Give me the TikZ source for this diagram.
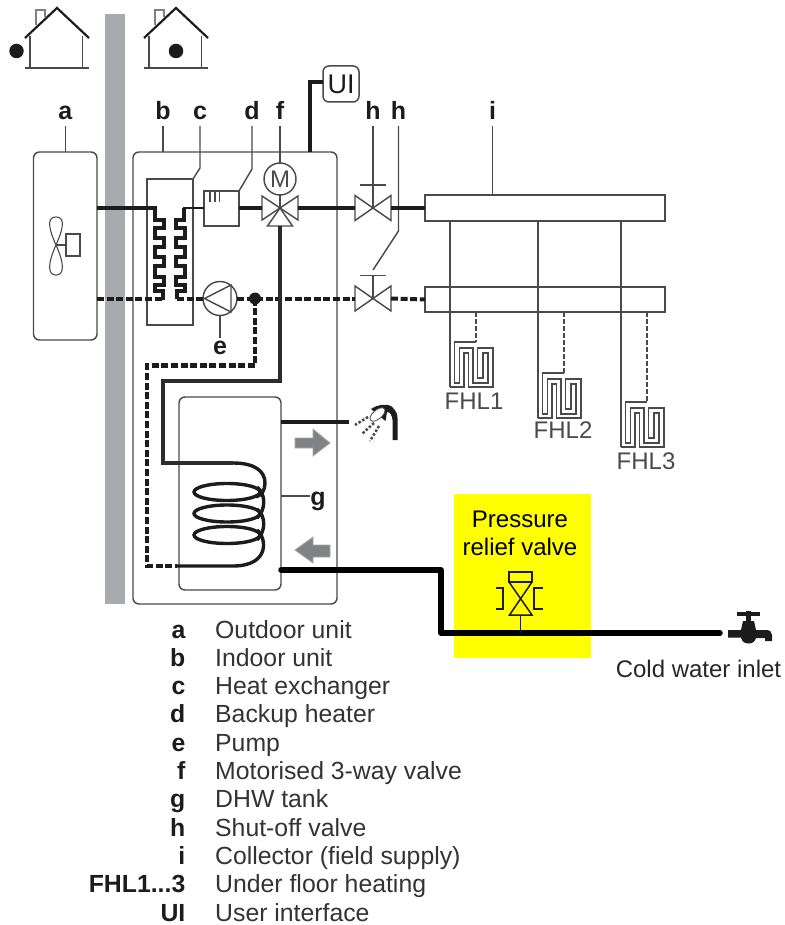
\documentclass[tikz,border=0pt]{standalone}
\usepackage{fontspec}
\setmainfont{Liberation Sans}
\usetikzlibrary{shapes.geometric}
\definecolor{linegrey}{HTML}{4A4A4C}
\definecolor{wallgrey}{HTML}{A9AAAE}
\definecolor{pipeblack}{HTML}{1C1C1C}
\definecolor{arrowgrey}{HTML}{808285}
\definecolor{relief}{HTML}{FFFF00}
\tikzset{
  thinline/.style={draw=linegrey,line width=1.45pt},
  hairline/.style={draw=linegrey,line width=1.1pt},
  hotpipe/.style={draw=pipeblack,line width=4pt,line join=miter},
  coldpipe/.style={draw=pipeblack,line width=4pt,dash pattern=on 7pt off 2.6pt},
  coilpipe/.style={draw=pipeblack,line width=3.4pt,line join=miter},
  mainspipe/.style={draw=black,line width=5.5pt,line join=round},
  leadlabel/.style={font=\fontsize{25}{28}\bfseries\selectfont,text=pipeblack,inner sep=0pt,outer ysep=6pt,text height=16pt,text depth=0pt,anchor=south},
  legkey/.style={font=\fontsize{24.8}{28}\bfseries\selectfont,text=pipeblack,inner sep=0pt,anchor=base east},
  legtext/.style={font=\fontsize{24.8}{28}\selectfont,text=black!80,inner sep=0pt,anchor=base west},
  fhltext/.style={font=\fontsize{24}{28}\selectfont,text=linegrey,inner sep=0pt},
  unitbox/.style={thinline,rounded corners=6pt,inner sep=0pt,outer sep=0pt,fill=none},
  plainbox/.style={thinline,inner sep=0pt,outer sep=0pt,fill=white},
  house/.pic={
    \draw[draw=linegrey!70,line width=1.6pt] (-12,9) -- (-12,2) -- (-21,2) -- (-21,17);
    \draw[thinline,line width=1.7pt] (-27,28) -- (-27,60) (25.5,28) -- (25.5,60);
    \draw[draw=pipeblack,line width=2.2pt] (-32,30) -- (0,0) -- (32,30);
    \draw[draw=linegrey,line width=1.7pt] (-32,60) -- (32,60);
  },
  shutoff/.pic={
    \draw[thinline,fill=white] (-18,-12.5) -- (0,0) -- (-18,12.5) -- cycle;
    \draw[thinline,fill=white] (18,-12.5) -- (0,0) -- (18,12.5) -- cycle;
    \draw[thinline] (0,0) -- (0,-23) (-13,-23) -- (13,-23);
    \coordinate (-top) at (0,-23);
    \coordinate (-l) at (-18,0);
    \coordinate (-r) at (18,0);
  },
  floorcoil/.pic={
    \draw[draw=linegrey,line width=1.35pt,line join=miter]
      (26,-45) -- (4.3,-45) -- (4.3,-4) -- (9.3,-4) -- (9.3,-39) -- (23,-39) -- (23,-4) -- (38,-4) -- (38,-34) -- (33,-34) -- (33,-9) -- (27.5,-9) -- (27.5,-39) -- (43,-39) -- (43,0) -- (18.5,0) -- (18.5,-34) -- (14,-34) -- (14,0) -- (0,0);
    \coordinate (-s) at (0,0);
    \coordinate (-d) at (26,-45);
  }
}
\begin{document}
\begin{tikzpicture}[x=1pt,y=-1pt]
\useasboundingbox (0,0) rectangle (784,925);
% highlight and wall
\node[fill=relief,inner sep=0pt,minimum width=137.5pt,minimum height=164pt] (yellow) at (522.25,576) {};
\node[fill=wallgrey,inner sep=0pt,minimum width=20pt,minimum height=590pt] (wall) at (115,309) {};
% houses
\pic at (57,8) {house};
\pic at (176,8) {house};
\node[circle,fill=pipeblack,minimum size=14.5pt,inner sep=0pt] (dotout) at (16.5,51) {};
\node[circle,fill=pipeblack,minimum size=14.5pt,inner sep=0pt] (dotin) at (176,51) {};
% units
\node[unitbox,draw,minimum width=63.5pt,minimum height=188pt] (a) at (65.25,246) {};
\node[unitbox,draw,minimum width=204pt,minimum height=452pt] (b) at (235,378) {};
\node[unitbox,draw,minimum width=36pt,minimum height=36pt,line width=1.5pt] (ui) at (341,84) {};
\node[font=\fontsize{27}{28}\selectfont,text=pipeblack,inner sep=0pt] (uitext) at (341,84.5) {UI};
\node[plainbox,draw,fill=none,minimum width=46pt,minimum height=146pt] (c) at (170,252) {};
\node[plainbox,draw,minimum width=35pt,minimum height=35pt] (d) at (221.5,208.5) {};
\node[plainbox,draw,minimum width=240pt,minimum height=26pt] (i1) at (545,208) {};
\node[plainbox,draw,minimum width=240pt,minimum height=25pt] (i2) at (545,299.5) {};
\node[unitbox,draw,minimum width=102pt,minimum height=193pt,fill=white] (g) at (230,493.5) {};
% labels
\node[leadlabel] (la) at (65.25,126) {a};
\node[leadlabel] (lb) at (163,126) {b};
\node[leadlabel] (lc) at (200,126) {c};
\node[leadlabel] (ld) at (252,126) {d};
\node[leadlabel] (lf) at (280,126) {f};
\node[leadlabel] (lh1) at (373,126) {h};
\node[leadlabel] (lh2) at (398.5,126) {h};
\node[leadlabel] (li) at (492.5,126) {i};
% leaders
\draw[thinline] (la.south) -- (a.north);
\draw[thinline] (lb.south) -- (lb.south |- b.north);
\coordinate (cbend) at (200,168);
\draw[thinline] (lc.south) -- (cbend) -- (c.north east);
\coordinate (dbend) at (252,169);
\draw[thinline] (ld.south) -- (dbend) -- (d.north east);
% heater ticks
\coordinate (t1) at (210,191);\coordinate (t2) at (215,191);\coordinate (t3) at (219.5,191);
\draw[hairline] (t1) -- ++(0,11) (t2) -- ++(0,11) (t3) -- ++(0,11);
% fan
\coordinate (fan) at (56,245);
\node[plainbox,draw,minimum width=14pt,minimum height=22pt] (motor) at (73,245) {};
\draw[hairline] (fan) .. controls (47,225) and (48,217) .. (56,217) .. controls (64,217) and (65,225) .. (fan)
  .. controls (47,265) and (48,275) .. (56,275) .. controls (64,275) and (65,265) .. (fan);
\draw[hairline] (fan) -- (motor.west);
% pipes: flow line
\coordinate (aflow) at (a.east |- 0,208);
\draw[hotpipe,line width=3.6pt] (aflow) -- (155,208) -- (155,220) -- (164,220) -- (164,228) -- (155,228) -- (155,238) -- (164,238) -- (164,247) -- (155,247) -- (155,257) -- (164,257) -- (164,266) -- (155,266) -- (155,277) -- (164,277) -- (164,285) -- (155,285) -- (155,291) -- (163,291) -- (163,300);
\coordinate (cR) at (c.east |- 0,208);
\draw[hotpipe,line width=3.6pt] (184,208) -- (184,220) -- (176,220) -- (176,228) -- (185,228) -- (185,238) -- (176,238) -- (176,247) -- (185,247) -- (185,257) -- (176,257) -- (176,266) -- (185,266) -- (185,277) -- (176,277) -- (176,285) -- (185,285) -- (185,291) -- (177,291) -- (177,299);
\draw[hotpipe,line width=2.6pt] (d.west |- 0,208) -- (182.5,208);
% valves
\pic (v1) at (373,208) {shutoff};
\pic (v2) at (373,298.5) {shutoff};
% 3-way valve
\coordinate (vf) at (280,208);
\coordinate (vfl) at (262,208);
\coordinate (vfr) at (298,208);
\coordinate (vfb) at (280,226);
\node[circle,thinline,draw,minimum size=32pt,inner sep=0pt,outer sep=0pt] (m) at (280,179) {};
\node[font=\fontsize{24}{28}\selectfont,text=linegrey,inner sep=0pt] (mtext) at (280,179.5) {M};
\draw[thinline] (lf.south) -- (m.north);
\draw[thinline] (m.south) -- (vf);
\draw[thinline] (vf) -- (262,196) -- (262,220) -- cycle;
\draw[thinline] (vf) -- (298,196) -- (298,220) -- cycle;
\draw[thinline] (vf) -- (267.5,226) -- (292.5,226) -- cycle;
% h leaders
\draw[thinline] (lh1.south) -- (v1-top);
\coordinate (hbend) at (398.5,231);
\coordinate (hend) at (373,270);
\draw[thinline] (lh2.south) -- (hbend) -- (hend);
% flow segments
\draw[hotpipe] (d.east |- 0,208) -- (vfl);
\draw[hotpipe] (vfr) -- (v1-l);
\draw[hotpipe] (v1-r) -- (i1.west);
\draw[thinline] (li.south) -- (li.south |- i1.north);
% UI
\coordinate (uib) at (310,82);
\draw[hotpipe] (310,152) -- (uib) -- (ui.west |- uib);
% pump
\node[circle,thinline,draw,fill=white,minimum size=34pt,inner sep=0pt,outer sep=0pt] (e) at (220,298.5) {};
\draw[thinline] (204.5,298.5) -- (231,285) -- (231,312) -- cycle;
\node[leadlabel,outer ysep=0pt] (le) at (220,354) {e};
\draw[thinline] (e.south) -- (le.north);
% return dashed
\coordinate (jn) at (255,298.5);
\coordinate (d1) at (255,365.5);
\coordinate (d2) at (147,365.5);
\coordinate (d3) at (147,566);
\coordinate (d4) at (177,566);
\draw[coldpipe] (a.east |- jn) -- (163,298.5);
\draw[coldpipe] (177,298.5) -- (e.west);
\draw[coldpipe] (e.east) -- (jn) -- (v2-l);
\draw[coldpipe] (v2-r) -- (i2.west);
\draw[coldpipe,line width=4.6pt] (jn) -- (d1) -- (d2) -- (d3) -- (d4);
\node[circle,fill=pipeblack,minimum size=12pt,inner sep=0pt] (jndot) at (jn) {};
% DHW line and coil
\coordinate (s1) at (280,381);
\coordinate (s2) at (163,381);
\coordinate (s3) at (163,463);
\coordinate (s4) at (233,463);
\draw[hotpipe,draw=linegrey!60!black,line width=3.4pt] (vfb) -- (s1) -- (s2) -- (s3) -- (s4);
\draw[coilpipe] (s4) .. controls (256,463) and (265,472) .. (265,483) .. controls (265,490) and (262,495) .. (256,497);
\draw[coilpipe] (227,492) ellipse [x radius=33pt,y radius=8.5pt];
\draw[coilpipe] (227,513.5) ellipse [x radius=33pt,y radius=8.5pt];
\draw[coilpipe] (227,535) ellipse [x radius=33pt,y radius=8.5pt];
\draw[coilpipe] (257,487) .. controls (266,494) and (266,510) .. (257,518);
\draw[coilpipe] (257,509) .. controls (266,516) and (266,531) .. (257,540);
\draw[coilpipe] (257,530) .. controls (267,538) and (270,566) .. (233,566) -- (d4);
% hot water out
\coordinate (hw1) at (g.east |- 0,422);
\coordinate (hw2) at (349,422);
\draw[hotpipe] (hw1) -- (hw2);
% shower
\fill[pipeblack] (371,409) .. controls (378,404) and (390,403) .. (393,408) .. controls (396,411) and (397.5,414) .. (397.5,418) -- (397.5,440) -- (392.5,440) -- (392.5,420) .. controls (392,415) and (390,412) .. (387,412) -- (385.5,421) -- cycle;
\filldraw[fill=white,draw=linegrey,line width=.8pt,rotate around={40:(377.5,414.5)}] (377.5,414.5) ellipse [x radius=9pt,y radius=4.5pt];
\draw[draw=linegrey,line width=2.5pt,dash pattern=on 2.5pt off 1.8pt] (368,417) -- (355,425) (374,423) -- (362,434) (379,426) -- (370,441);
% grey arrows
\draw[fill=arrowgrey,draw=arrowgrey!70,line width=.8pt] (295,438) -- (313,438) -- (313,429) -- (330,443) -- (313,456) -- (313,448) -- (295,448) -- cycle;
\draw[fill=arrowgrey,draw=arrowgrey!70,line width=.8pt] (330,545) -- (313,545) -- (313,537) -- (295,550) -- (313,563) -- (313,557) -- (330,557) -- cycle;
% g label
\node[leadlabel,outer ysep=0pt,anchor=base] (lg) at (318,505) {g};
\draw[thinline] (g.east |- 0,496) -- (lg.west |- 0,496);
% mains water
\coordinate (m1) at (g.east |- 0,570);
\coordinate (m2) at (441,570);
\coordinate (m3) at (441,633);
\coordinate (m4) at (720,633);
\draw[mainspipe,line cap=round] (m1) -- (m2) -- (m3) -- (m4);
% relief valve
\node[font=\fontsize{24}{28}\selectfont,text=black,align=center,inner sep=0pt] (prvt) at (520,533.5) {Pressure\\relief valve};
\node[draw=pipeblack,line width=1.5pt,fill=none,minimum width=23pt,minimum height=10pt,inner sep=0pt,outer sep=0pt] (prv) at (520.5,577) {};
\coordinate (prvb) at (520.5,615);
\draw[draw=pipeblack,line width=1.5pt,line join=miter] (prv.south west) -- (532,615) -- (509.5,615) -- (prv.south east);
\draw[draw=pipeblack,line width=1.5pt] (496,588) -- (503,588) -- (503,609) -- (496,609);
\draw[draw=pipeblack,line width=1.5pt] (543,588) -- (534,588) -- (534,609) -- (543,609);
\draw[draw=pipeblack,line width=1.5pt] (prvb) -- (prvb |- m4);
% tap
\fill[pipeblack] (728,630) -- (741,630) -- (743,621) -- (754,621) -- (756,630) -- (766,630) .. controls (770,630) and (772,632) .. (772,635) -- (772,641) -- (765,641) -- (765,638) -- (756,638) .. controls (755,642) and (752,643.5) .. (748.5,643.5) .. controls (745,643.5) and (742,642) .. (741,637.5) -- (728,637.5) -- cycle;
\draw[draw=pipeblack,line width=3.2pt] (737,614) -- (760,614);
\draw[draw=pipeblack,line width=5pt] (748.5,611) -- (748.5,623);
\node[font=\fontsize{24}{28}\selectfont,text=black!85,inner sep=0pt,anchor=base] (cold) at (698.5,677) {Cold water inlet};
% collectors to floor coils
\pic (f1) at (450,387) {floorcoil};
\pic (f2) at (538,418) {floorcoil};
\pic (f3) at (621,447) {floorcoil};
\draw[thinline] (f1-s |- i1.south) -- (f1-s);
\draw[thinline] (f2-s |- i1.south) -- (f2-s);
\draw[thinline] (f3-s |- i1.south) -- (f3-s);
\draw[thinline,dash pattern=on 5pt off 2pt] (f1-d |- i2.south) -- (f1-d);
\draw[thinline,dash pattern=on 5pt off 2pt] (f2-d |- i2.south) -- (f2-d);
\draw[thinline,dash pattern=on 5pt off 2pt] (f3-d |- i2.south) -- (f3-d);
\node[fhltext] (t1n) at (474,401) {FHL1};
\node[fhltext] (t2n) at (563,430) {FHL2};
\node[fhltext] (t3n) at (646,461) {FHL3};
% legend
\node[legkey] (k1) at (185.5,638) {a};   \node[legtext] (v1t) at (215,638) {Outdoor unit};
\node[legkey] (k2) at (185.5,666.3) {b}; \node[legtext] (v2t) at (215,666.3) {Indoor unit};
\node[legkey] (k3) at (185.5,694.6) {c}; \node[legtext] (v3t) at (215,694.6) {Heat exchanger};
\node[legkey] (k4) at (185.5,722.9) {d}; \node[legtext] (v4t) at (215,722.9) {Backup heater};
\node[legkey] (k5) at (185.5,751.2) {e}; \node[legtext] (v5t) at (215,751.2) {Pump};
\node[legkey] (k6) at (185.5,779.5) {f}; \node[legtext] (v6t) at (215,779.5) {Motorised 3-way valve};
\node[legkey] (k7) at (185.5,807.8) {g}; \node[legtext] (v7t) at (215,807.8) {DHW tank};
\node[legkey] (k8) at (185.5,836.1) {h}; \node[legtext] (v8t) at (215,836.1) {Shut-off valve};
\node[legkey] (k9) at (185.5,864.4) {i}; \node[legtext] (v9t) at (215,864.4) {Collector (field supply)};
\node[legkey] (k10) at (185.5,892.7) {FHL1...3}; \node[legtext] (v10t) at (215,892.7) {Under floor heating};
\node[legkey] (k11) at (185.5,921) {UI}; \node[legtext] (v11t) at (215,921) {User interface};
\end{tikzpicture}
\end{document}
